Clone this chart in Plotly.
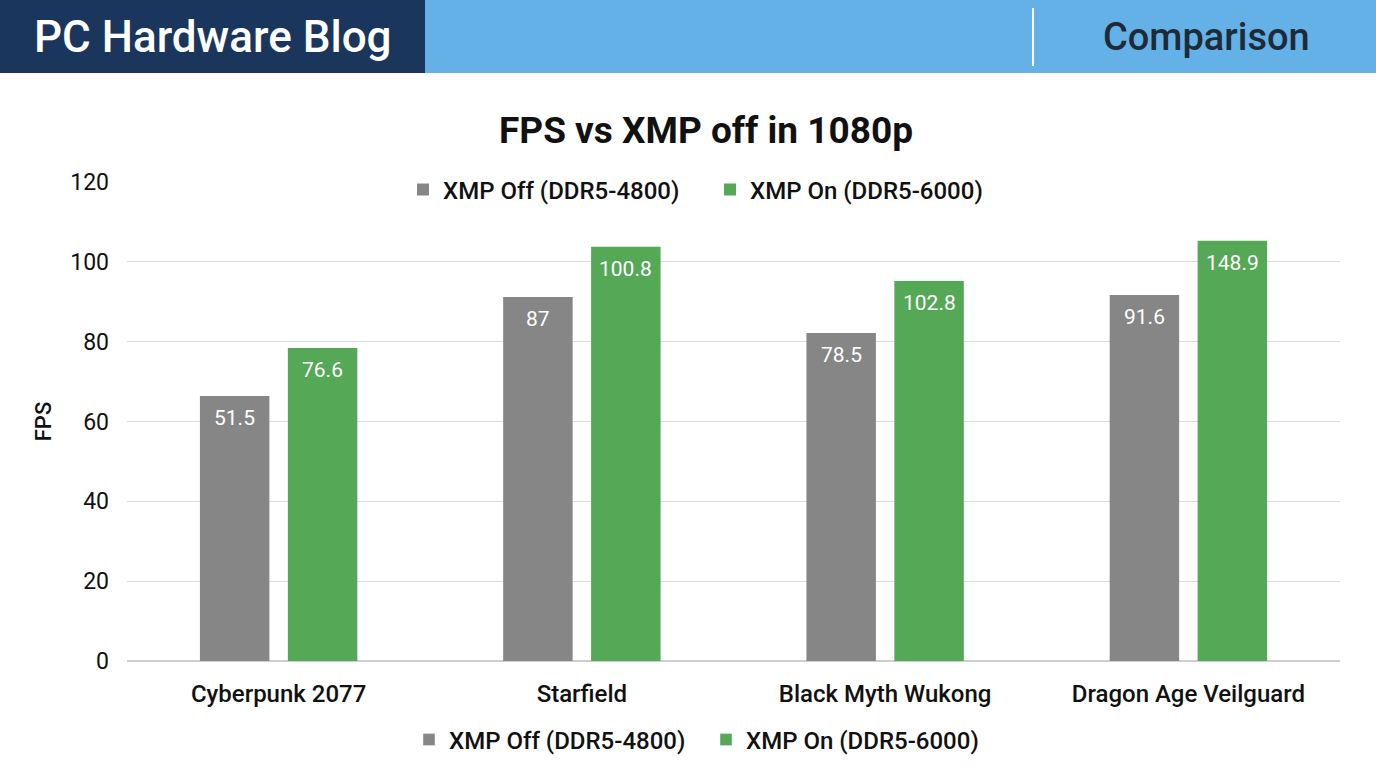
import plotly.graph_objects as go

W, H = 1376, 768
games = ["Cyberpunk 2077", "Starfield", "Black Myth Wukong", "Dragon Age Veilguard"]
series_names = ["XMP Off (DDR5-4800)", "XMP On (DDR5-6000)"]
# bar heights as drawn in the picture
fps_off = [66.4, 91.2, 82.2, 91.7]
fps_on = [78.4, 103.8, 95.2, 105.3]
# data label texts as printed on the bars
labels_off = ["51.5", "87", "78.5", "91.6"]
labels_on = ["76.6", "100.8", "102.8", "148.9"]
y_ticks = [0, 20, 40, 60, 80, 100, 120]

GREY = "#868686"
GREEN = "#55a855"
NAVY = "#1b365d"
SKY = "#64b1e8"
FONT = "Roboto"
BARGAP = 0.42

# plot area in pixels
L, R, T, B = 127, 36, 182, 107
PW, PH = W - L - R, H - T - B


def px(x):
    return (x - L) / PW


def py(y):
    return (H - B - y) / PH


fig = go.Figure()
for name, vals, col, grp in [(series_names[0], fps_off, GREY, "off"),
                             (series_names[1], fps_on, GREEN, "on")]:
    fig.add_trace(go.Bar(
        x=games, y=vals, name=name, marker_color=col, marker_line_width=0,
        offsetgroup=grp, legend="legend", hoverinfo="skip"))
# entries for the lower legend (share offset groups, draw nothing)
for name, col, grp in [(series_names[0], GREY, "off"), (series_names[1], GREEN, "on")]:
    fig.add_trace(go.Bar(x=[games[0]], y=[None], name=name, marker_color=col,
                         offsetgroup=grp, legend="legend2", showlegend=True,
                         hoverinfo="skip"))

# value labels placed inside the top of each bar
slot_px = PW / len(games) * (1 - BARGAP) / 2
annotations = []
for vals, labs, sign in [(fps_off, labels_off, -1), (fps_on, labels_on, 1)]:
    for g, v, t in zip(games, vals, labs):
        annotations.append(dict(
            x=g, y=v, xref="x", yref="y", text=t, showarrow=False,
            xshift=sign * slot_px / 2, yshift=-22, yanchor="middle", xanchor="center",
            font=dict(color="white", size=21, family=FONT)))

shapes = [
    dict(type="rect", xref="paper", yref="paper", x0=px(0), x1=px(425),
         y0=py(73), y1=py(0), fillcolor=NAVY, line_width=0, layer="below"),
    dict(type="rect", xref="paper", yref="paper", x0=px(425), x1=px(W),
         y0=py(73), y1=py(0), fillcolor=SKY, line_width=0, layer="below"),
    dict(type="line", xref="paper", yref="paper", x0=px(1033), x1=px(1033),
         y0=py(66), y1=py(8), line=dict(color="white", width=2)),
]
annotations += [
    dict(text="PC Hardware Blog", xref="paper", yref="paper", x=px(32), y=py(37),
         xanchor="left", yanchor="middle", showarrow=False,
         font=dict(family=FONT, size=44, color="white", weight=500)),
    dict(text="Comparison", xref="paper", yref="paper", x=px(1206), y=py(37),
         xanchor="center", yanchor="middle", showarrow=False,
         font=dict(family=FONT, size=38, color="#1e2a36", weight=500)),
]

fig.update_layout(
    width=W, height=H, margin=dict(l=L, r=R, t=T, b=B, autoexpand=False),
    paper_bgcolor="white", plot_bgcolor="white",
    font=dict(family=FONT, color="#111111"),
    title=dict(text="<b>FPS vs XMP off in 1080p</b>", x=px(706), xref="paper",
               xanchor="center", y=1 - 130 / H, yanchor="middle",
               font=dict(size=37, family=FONT, color="#111111")),
    barmode="group", bargap=BARGAP, bargroupgap=0.21,
    shapes=shapes, annotations=annotations,
    legend=dict(orientation="h", x=px(710), xanchor="center", y=py(190), yanchor="middle",
                bgcolor="white", font=dict(size=24, family=FONT, color="#111111", weight=500),
                traceorder="normal", itemclick=False, entrywidth=262),
    legend2=dict(orientation="h", x=px(706), xanchor="center", y=py(740), yanchor="middle",
                 bgcolor="rgba(0,0,0,0)",
                 font=dict(size=24, family=FONT, color="#111111", weight=500),
                 traceorder="normal", itemclick=False, entrywidth=252),
    showlegend=True,
)
fig.update_yaxes(range=[0, 120], tickvals=y_ticks, showgrid=True, gridcolor="#dcdcdc",
                 gridwidth=1, zeroline=True, zerolinecolor="#cfcfcf", zerolinewidth=1.5,
                 tickfont=dict(size=23, family=FONT, color="#111111"), ticks="",
                 ticklabelstandoff=17,
                 title=dict(text="FPS", font=dict(size=22, family=FONT, color="#111111",
                                                  weight=500),
                            standoff=12))
fig.update_xaxes(tickfont=dict(size=24, family=FONT, color="#111111", weight=500), ticks="",
                 ticklabelstandoff=16, showline=False)

fig.write_html("out.html")
